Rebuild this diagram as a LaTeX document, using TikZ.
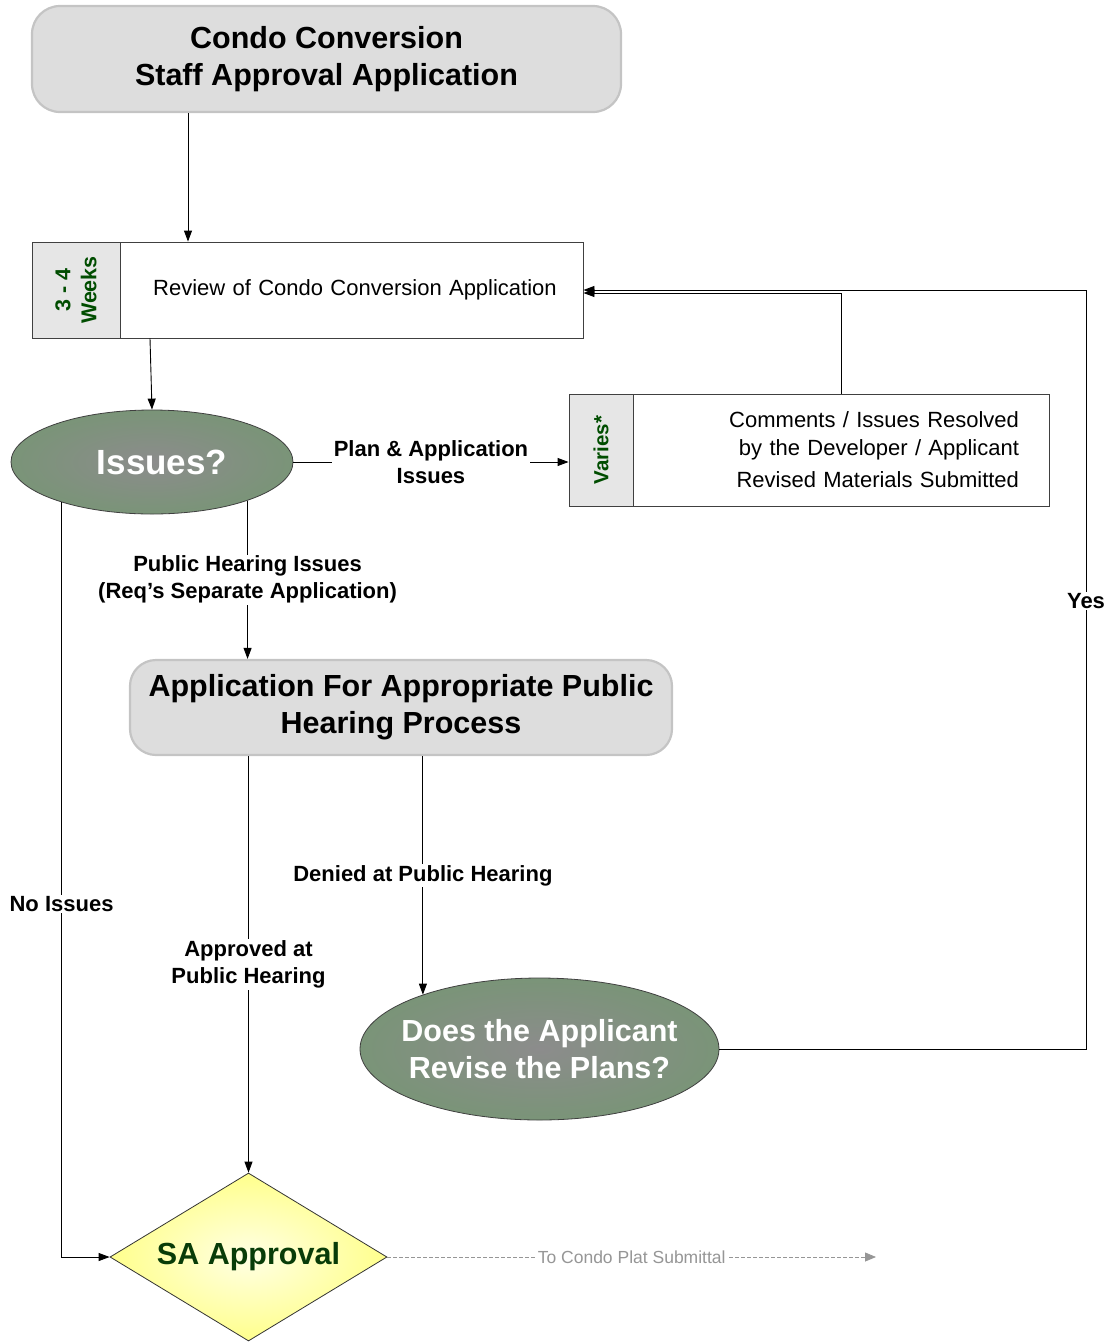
\documentclass[tikz,border=0pt]{standalone}
\usepackage{fontspec}
\setmainfont{Liberation Sans}
\usetikzlibrary{shapes.geometric,arrows.meta,calc}
\definecolor{boxgray}{RGB}{221,221,221}
\definecolor{boxedge}{RGB}{196,196,196}
\definecolor{labgray}{RGB}{230,230,230}
\definecolor{wkgreen}{RGB}{0,77,0}
\definecolor{sagreen}{RGB}{8,60,8}
\definecolor{ovalout}{RGB}{122,148,120}
\definecolor{ovalin}{RGB}{140,140,140}
\definecolor{diaout}{RGB}{255,255,140}
\definecolor{diain}{RGB}{255,255,228}
\definecolor{dashgray}{RGB}{150,150,150}
\newcommand\fsz[2]{\fontsize{#1}{#2}\selectfont}
\begin{document}
\begin{tikzpicture}[x=1pt,y=-1pt,
  rbox/.style={draw=boxedge, line width=2.2pt, fill=boxgray, rounded corners=28pt,
     inner sep=0pt, align=center, font=\bfseries\fsz{30.5}{37}},
  wbox/.style={draw=black!75, line width=0.9pt, fill=white, inner sep=0pt},
  lbox/.style={draw=black!75, line width=0.9pt, fill=labgray, inner sep=0pt,
     rotate=90, align=center, text=wkgreen, font=\bfseries\fsz{21.5}{26}},
  oval/.style={ellipse, draw=black!75, line width=0.8pt, shading=radial,
     inner color=ovalin, outer color=ovalout, inner sep=0pt, align=center,
     text=white, font=\bfseries},
  arr/.style={draw, line width=0.9pt, -{Triangle[length=11pt,width=8pt]}},
  lab/.style={fill=white, inner sep=1.5pt, align=center, font=\bfseries\fsz{22}{27}},
  dasharr/.style={draw=dashgray, line width=0.8pt, dash pattern=on 4pt off 2pt,
     -{Triangle[length=11pt,width=9pt,fill=dashgray]}}
]
\useasboundingbox (0,0) rectangle (1107,1342);

% column coordinates
\coordinate (x188) at (188,0);
\coordinate (x150) at (150,0);
\coordinate (x876) at (876,0);
\coordinate (x1086) at (1086,0);

% nodes
\node[rbox, minimum width=589pt, minimum height=106pt] (top) at (326.5,59)
  {Condo Conversion\\Staff Approval Application};

\node[wbox, minimum width=463pt, minimum height=96pt, text width=443pt, align=center,
  font=\fsz{22}{26}] (review) at (351.5,290)
  {\hspace*{7pt}Review of Condo Conversion Application};
\node[lbox, minimum width=96pt, minimum height=88pt] (weeks) at (76,290) {3 - 4\\Weeks};

\node[oval, minimum width=282pt, minimum height=104pt, font=\bfseries\fsz{35}{40}] (issues) at (152,462)
  {\hspace*{20pt}Issues?};

\node[wbox, minimum width=416pt, minimum height=112pt, text width=356pt, align=right,
  font=\fsz{22}{28}] (varbox) at (841,450)
  {Comments / Issues Resolved\\by the Developer / Applicant\\[4pt]Revised Materials Submitted};
\node[lbox, minimum width=112pt, minimum height=64pt, font=\bfseries\fsz{20.5}{24}] (varlab) at (601,450) {Varies*};

\node[rbox, rounded corners=26pt, minimum width=542pt, minimum height=95pt] (app) at (401,707.5)
  {Application For Appropriate Public\\Hearing Process};

\node[oval, inner xsep=-14pt, minimum width=359pt, minimum height=142pt,
  font=\bfseries\fsz{30.5}{37}] (does) at (539.5,1049)
  {Does the Applicant\\Revise the Plans?};

\node[diamond, aspect=1.65, draw=black!80, line width=0.8pt, shading=radial,
  inner color=diain, outer color=diaout, minimum width=277pt, minimum height=168pt,
  inner sep=0pt, text=sagreen, font=\bfseries\fsz{30.5}{36}] (sa) at (248.5,1257) {SA Approval};

% connectors
\draw[arr] (top.south -| x188) -- (review.north -| x188);
\draw[arr] (review.south -| x150) -- (issues.north);
\draw[arr] (issues.east) -- (issues.east -| varlab.north)
  node[lab, midway] {Plan \& Application\\Issues};
\draw[arr] (varbox.north) |- ([yshift=-3pt]review.east);
\draw[arr] (does.east) -- (does.east -| x1086) -- (x1086 |- review.east)
  node[lab, pos=0.59] {Yes} -- (review.east);
\draw[arr] (issues.204) |- (sa.west) node[lab, pos=0.266] {No Issues};
\draw[arr] (issues.338) -- (issues.338 |- app.north)
  node[lab, midway] {Public Hearing Issues\\(Req’s Separate Application)};
\draw[arr] (sa.north |- app.south) -- (sa.north)
  node[lab, midway] {Approved at\\Public Hearing};
\draw[arr] (does.155 |- app.south) -- (does.155)
  node[lab, midway] {Denied at Public Hearing};
\draw[dasharr] (sa.east) -- (sa.east -| x876)
  node[midway, fill=white, inner sep=1pt, text=dashgray, font=\fsz{17.5}{20}] {To Condo Plat Submittal};
\end{tikzpicture}
\end{document}
